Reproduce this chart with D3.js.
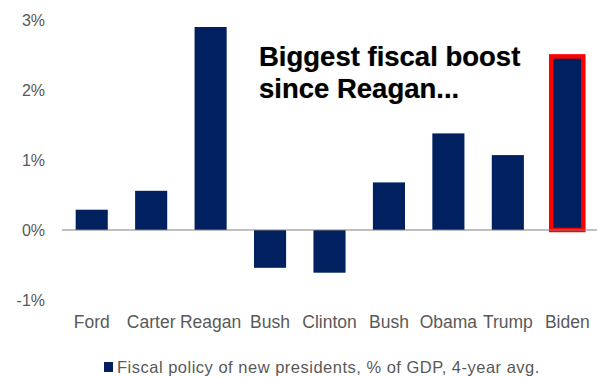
<!DOCTYPE html>
<html><head><meta charset="utf-8">
<script src="https://cdnjs.cloudflare.com/ajax/libs/d3/7.8.5/d3.min.js"></script>
<style>body{margin:0;background:#fff}svg{display:block}</style>
</head><body>
<script>
const categories = ["Ford","Carter","Reagan","Bush","Clinton","Bush","Obama","Trump","Biden"];
const values = [0.29, 0.56, 2.90, -0.54, -0.61, 0.68, 1.38, 1.07, 2.48];
const yTicks = [-1, 0, 1, 2, 3];
const seriesName = "Fiscal policy of new presidents, % of GDP, 4-year avg.";
const annotation = ["Biggest fiscal boost", "since Reagan..."];
const highlight = "Biden";

const W = 599, H = 377;
const svg = d3.select("body").append("svg").attr("width", W).attr("height", H);
const font = "'Liberation Sans', Arial, sans-serif";
const gray = "#595959";
const navy = "#002060";

const x = d3.scaleBand().domain(d3.range(categories.length)).range([62, 597]).paddingInner(0.46).paddingOuter(0.23);
const y = d3.scaleLinear().domain([-1, 3]).range([300, 20]);

// y labels
const yAxis = d3.axisLeft(y).tickValues(yTicks).tickFormat(d => d + "%").tickSize(0).tickPadding(0);
const ga = svg.append("g").attr("transform", "translate(45,0)").call(yAxis);
ga.select(".domain").remove();
ga.selectAll("text").attr("fill", gray).style("font", `16px ${font}`);

// bars
svg.append("g").selectAll("rect").data(values).join("rect")
  .attr("x", (d, i) => x(i))
  .attr("width", x.bandwidth())
  .attr("y", d => y(Math.max(0, d)))
  .attr("height", d => Math.abs(y(d) - y(0)))
  .attr("fill", navy)
  .attr("stroke", (d, i) => categories[i] === highlight ? "#ff0000" : "none")
  .attr("stroke-width", 4.5);

// zero line
svg.append("line").attr("x1", 62).attr("x2", 597).attr("y1", y(0)).attr("y2", y(0))
  .attr("stroke", "#808080").attr("stroke-width", 1);

// category labels
const xAxis = d3.axisBottom(x).tickFormat(i => categories[i]).tickSize(0).tickPadding(0);
const gx = svg.append("g").attr("transform", "translate(0,315.6)").call(xAxis);
gx.select(".domain").remove();
gx.selectAll("text").attr("fill", gray).style("font", `17.5px ${font}`);

// annotation
svg.append("g").selectAll("text").data(annotation).join("text")
  .attr("x", 259).attr("y", (d, i) => 66 + i * 32)
  .attr("fill", "#000").style("font", `bold 27.5px ${font}`)
  .style("text-shadow", "0 0 1px rgba(0,0,0,0.45)")
  .text(d => d);

// legend
svg.append("rect").attr("x", 104).attr("y", 362).attr("width", 9).attr("height", 10).attr("fill", navy);
svg.append("text").attr("x", 117).attr("y", 372.5).attr("fill", gray)
  .style("font", `16.5px ${font}`).style("letter-spacing", "0.5px").text(seriesName);
</script>
</body></html>
